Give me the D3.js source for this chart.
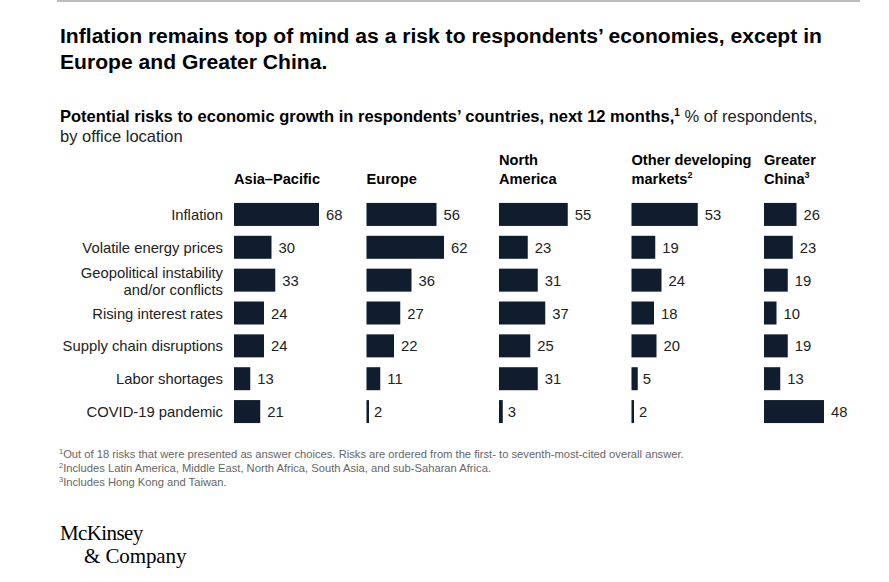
<!DOCTYPE html>
<html><head><meta charset="utf-8">
<script src="https://cdn.jsdelivr.net/npm/d3@7"></script>
<style>body{margin:0;background:#fff}svg{display:block}</style>
</head><body>
<script>
const risks = ["Inflation","Volatile energy prices","Geopolitical instability|and/or conflicts","Rising interest rates","Supply chain disruptions","Labor shortages","COVID-19 pandemic"];
const regions = ["Asia–Pacific","Europe","North America","Other developing markets","Greater China"];
const regionHeaders = [["Asia–Pacific"],["Europe"],["North","America"],["Other developing","markets|2"],["Greater","China|3"]];
const asiaPacific = [68,30,33,24,24,13,21];
const europe = [56,62,36,27,22,11,2];
const northAmerica = [55,23,31,37,25,31,3];
const otherDeveloping = [53,19,24,18,20,5,2];
const greaterChina = [26,23,19,10,19,13,48];
const seriesValues = [asiaPacific, europe, northAmerica, otherDeveloping, greaterChina];
const footnotes = ["1|Out of 18 risks that were presented as answer choices. Risks are ordered from the first- to seventh-most-cited overall answer.","2|Includes Latin America, Middle East, North Africa, South Asia, and sub-Saharan Africa.","3|Includes Hong Kong and Taiwan."];

const W=889,H=582;
const svg=d3.select("body").append("svg").attr("width",W).attr("height",H);
const font="'Liberation Sans', Arial, sans-serif";
const ink="#0f1d2e";

svg.append("line").attr("x1",57).attr("x2",860).attr("y1",1).attr("y2",1).attr("stroke","#bdbdbd").attr("stroke-width",2);

const title=svg.append("text").attr("font-family",font).attr("font-weight","bold").attr("font-size",21.1).attr("fill","#000");
title.append("tspan").attr("x",60).attr("y",43).text("Inflation remains top of mind as a risk to respondents’ economies, except in");
title.append("tspan").attr("x",60).attr("y",69).text("Europe and Greater China.");

const sub=svg.append("text").attr("font-family",font).attr("font-size",16.5).attr("fill","#000");
const t1=sub.append("tspan").attr("x",60).attr("y",122);
t1.append("tspan").attr("font-weight","bold").text("Potential risks to economic growth in respondents’ countries, next 12 months,");
t1.append("tspan").attr("font-weight","bold").attr("font-size",10).attr("dy",-6).text("1");
t1.append("tspan").attr("dy",6).attr("fill","#222").text(" % of respondents,");
sub.append("tspan").attr("x",60).attr("y",142).attr("fill","#222").text("by office location");

const panelX=d3.scalePoint().domain(regions).range([234,764]);
const y=d3.scaleBand().domain(risks).range([198,428]).paddingInner(0.3).paddingOuter(0.15);
const x=d3.scaleLinear().domain([0,68]).range([0,85]);

// row labels
risks.forEach(r=>{
  const parts=r.split("|");
  const cy=y(r)+y.bandwidth()/2;
  const t=svg.append("text").attr("font-family",font).attr("font-size",14.8).attr("fill","#222").attr("text-anchor","end");
  if(parts.length===1){
    t.append("tspan").attr("x",223).attr("y",cy+5.5).text(parts[0]);
  } else {
    t.append("tspan").attr("x",223).attr("y",cy-2.5).text(parts[0]);
    t.append("tspan").attr("x",223).attr("y",cy+14.5).text(parts[1]);
  }
});

regions.forEach((reg,i)=>{
  const px=panelX(reg);
  const hdr=regionHeaders[i];
  const ht=svg.append("text").attr("font-family",font).attr("font-weight","bold").attr("font-size",14.6).attr("fill","#000");
  const baseY=hdr.length===1?[184]:[165,184];
  hdr.forEach((line,j)=>{
    const [txt,sup]=line.split("|");
    ht.append("tspan").attr("x",px).attr("y",baseY[j]).text(txt);
    if(sup){ht.append("tspan").attr("font-size",9).attr("dy",-6).text(sup);}
  });
  const g=svg.append("g").attr("transform",`translate(${px},0)`);
  const vals=seriesValues[i];
  g.selectAll("rect").data(vals).join("rect")
    .attr("x",0).attr("y",(d,k)=>y(risks[k])).attr("width",d=>x(d)).attr("height",y.bandwidth()).attr("fill",ink);
  g.selectAll("text").data(vals).join("text")
    .attr("x",d=>x(d)+(d<=5?5:7)).attr("y",(d,k)=>y(risks[k])+y.bandwidth()/2+5.5)
    .attr("font-family",font).attr("font-size",14.8).attr("fill","#222").text(d=>d);
});

footnotes.forEach((f,i)=>{
  const [n,txt]=f.split("|");
  const t=svg.append("text").attr("font-family",font).attr("font-size",11.2).attr("fill","#666").attr("x",59).attr("y",458+i*14);
  t.append("tspan").attr("font-size",7.5).attr("dy",-4).text(n);
  t.append("tspan").attr("dy",4).text(txt);
});

const logo=svg.append("text").attr("font-family","'Liberation Serif', 'DejaVu Serif', serif").attr("font-size",21).attr("fill","#000");
logo.append("tspan").attr("x",60).attr("y",540).attr("letter-spacing",-0.6).text("McKinsey");
logo.append("tspan").attr("x",84).attr("y",563).attr("letter-spacing",-0.1).text("& Company");
</script>
</body></html>
